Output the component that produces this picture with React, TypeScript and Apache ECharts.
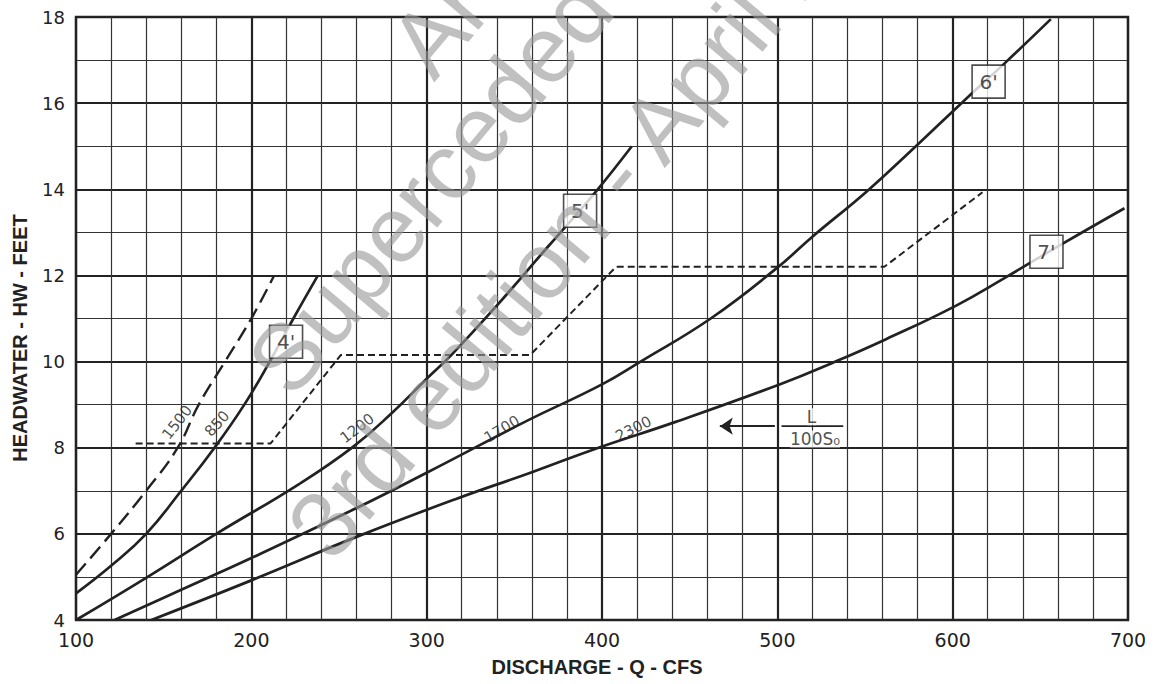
import { useEffect, useRef } from "react";
import * as echarts from "echarts";

// ---- axis ticks ----
const xTicks = [100, 200, 300, 400, 500, 600, 700];
const yTicks = [4, 6, 8, 10, 12, 14, 16, 18];

// ---- performance curves (Q in cfs, HW in feet) ----
const q1500 = [100, 120, 140, 158, 170, 185, 200, 213];
const hw1500 = [5.05, 6.0, 7.0, 8.0, 9.0, 10.0, 11.0, 12.0];

const q850 = [100, 120, 140, 160, 179, 196, 210.5, 224, 238];
const hw850 = [4.62, 5.26, 6.0, 7.0, 8.0, 9.0, 10.0, 11.0, 12.0];

const q1200 = [100, 140, 180, 227, 258, 280, 300, 314, 340, 369, 379, 397, 417];
const hw1200 = [4.0, 4.98, 6.0, 7.15, 8.02, 8.8, 9.6, 10.15, 11.3, 12.66, 13.12, 13.97, 15.0];

const q1700 = [122, 160, 200, 260, 300, 356, 400, 422, 462, 500, 520, 551, 579, 605, 629, 656];
const hw1700 = [4.0, 4.7, 5.44, 6.6, 7.42, 8.6, 9.47, 10.0, 11.0, 12.18, 12.9, 13.95, 15.0, 16.0, 16.9, 17.95];

const q2300 = [143, 200, 260, 316, 360, 398, 442, 502, 532, 562, 602, 630, 662, 698];
const hw2300 = [4.0, 4.92, 5.93, 6.8, 7.43, 8.0, 8.6, 9.48, 9.98, 10.52, 11.3, 11.95, 12.72, 13.56];

// ---- L/100So limit (short dashes) ----
const limitQ = [134, 211, 251, 359, 408, 561, 617];
const limitHW = [8.1, 8.1, 10.15, 10.15, 12.2, 12.2, 13.93];

// ---- curve labels ----
const curveLabelText = ["1500", "850", "1200", "1700", "2300"];
const curveLabelQ = [157.7, 180.5, 260.4, 342.9, 418];
const curveLabelHW = [8.59, 8.56, 8.45, 8.43, 8.44];
const curveLabelAngle = [52, 48, 37, 31, 27];

// ---- culvert size boxes ----
const sizeText = ["4'", "5'", "6'", "7'"];
const sizeQ = [219.8, 387.5, 620.5, 653.5];
const sizeHW = [10.46, 13.5, 16.5, 12.55];

// ---- L/100So note ----
const arrowQ = [498.6, 467.2];
const barQ = [502.4, 537.6];
const noteHW = 8.5;
const noteText = ["L", "100S₀"];
const noteQ = [519.5, 521.5];
const noteHWs = [8.72, 8.2];

// ---- titles / watermark ----
const xTitle = "DISCHARGE - Q - CFS";
const yTitle = "HEADWATER - HW - FEET";
const watermarkText = ["Archived -", "Superceded -", "3rd edition - April 2012"];

const INK = "#222";
const FONT = "DejaVu Sans";

const pairs = (xs: number[], ys: number[]) => xs.map((x, i) => [x, ys[i]]);

export default function App() {
  const ref = useRef<HTMLDivElement>(null);

  useEffect(() => {
    if (!ref.current) return;
    const chart = echarts.init(ref.current, null, { renderer: "svg" });

    const curve = (xs: number[], ys: number[], extra: any = {}) => ({
      type: "line",
      data: pairs(xs, ys),
      smooth: 0.45,
      symbol: "none",
      lineStyle: { color: INK, width: 2.7, ...(extra.lineStyle || {}) },
      z: 3,
      silent: true,
    });

    const wmStyle = {
      fill: "#999",
      opacity: 0.62,
      font: "94px 'Liberation Sans', Arial, sans-serif",
      textAlign: "left",
      textVerticalAlign: "bottom",
    };
    const rot = (50 * Math.PI) / 180;

    chart.setOption({
      animation: false,
      backgroundColor: "#fff",
      grid: {
        left: 76,
        top: 17,
        right: 28,
        bottom: 64,
        show: true,
        borderColor: INK,
        borderWidth: 2.4,
        backgroundColor: "#fff",
      },
      xAxis: {
        type: "value",
        min: 100,
        max: 700,
        interval: 100,
        axisLine: { show: false },
        axisTick: { show: false },
        axisLabel: { customValues: xTicks, fontSize: 19, color: INK, margin: 10, fontFamily: FONT },
        splitLine: { show: true, lineStyle: { color: INK, width: 2.2 } },
        minorTick: { show: false, splitNumber: 5 },
        minorSplitLine: { show: true, lineStyle: { color: "#333", width: 1.2 } },
        name: xTitle,
        nameLocation: "middle",
        nameGap: 37,
        nameTextStyle: { fontSize: 20, fontWeight: "bold", color: INK, fontFamily: "Liberation Sans", padding: [0, 10, 0, 0] },
      },
      yAxis: {
        type: "value",
        min: 4,
        max: 18,
        interval: 2,
        axisLine: { show: false },
        axisTick: { show: false },
        axisLabel: { customValues: yTicks, fontSize: 18, color: INK, margin: 11, fontFamily: FONT },
        splitLine: { show: true, lineStyle: { color: INK, width: 2.2 } },
        minorTick: { show: false, splitNumber: 2 },
        minorSplitLine: { show: true, lineStyle: { color: "#333", width: 1.2 } },
      },
      series: [
        curve(q1500, hw1500, { lineStyle: { type: [15, 7], width: 2.4 } }),
        curve(q850, hw850),
        curve(q1200, hw1200),
        curve(q1700, hw1700),
        curve(q2300, hw2300),
        {
          type: "line",
          data: pairs(limitQ, limitHW),
          symbol: "none",
          lineStyle: { color: INK, width: 2, type: [7, 4] },
          z: 3,
          silent: true,
        },
        {
          type: "scatter",
          symbolSize: 1,
          itemStyle: { color: "rgba(0,0,0,0)" },
          z: 5,
          silent: true,
          label: { show: true, position: "inside", fontSize: 15, color: INK, fontFamily: FONT },
          data: curveLabelQ.map((q, i) => ({
            value: [q, curveLabelHW[i]],
            label: { rotate: curveLabelAngle[i], formatter: curveLabelText[i] },
          })),
        },
        {
          type: "scatter",
          symbol: "rect",
          symbolSize: [33, 33],
          itemStyle: { color: "#fff", borderColor: INK, borderWidth: 1.6 },
          z: 6,
          silent: true,
          label: { show: true, position: "inside", fontSize: 20, color: INK, fontFamily: FONT },
          data: sizeQ.map((q, i) => ({
            value: [q, sizeHW[i]],
            label: { formatter: sizeText[i] },
          })),
        },
        {
          type: "scatter",
          symbolSize: 1,
          itemStyle: { color: "rgba(0,0,0,0)" },
          z: 6,
          silent: true,
          label: { show: true, position: "inside", fontSize: 17, color: INK, fontFamily: FONT, backgroundColor: "#fff" },
          data: noteQ.map((q, i) => ({
            value: [q, noteHWs[i]],
            label: { formatter: noteText[i] },
          })),
          markLine: {
            silent: true,
            symbol: ["none", "arrow"],
            symbolSize: 13,
            lineStyle: { color: INK, width: 1.8, type: "solid" },
            label: { show: false },
            data: [[{ coord: [arrowQ[0], noteHW] }, { coord: [arrowQ[1], noteHW] }]],
          },
        },
        {
          type: "line",
          data: pairs(barQ, [noteHW, noteHW]),
          symbol: "none",
          lineStyle: { color: INK, width: 1.8 },
          z: 6,
          silent: true,
        },
      ],
      graphic: [
        {
          type: "text",
          x: 20,
          y: 338,
          rotation: Math.PI / 2,
          silent: true,
          style: {
            text: yTitle,
            fill: INK,
            font: "bold 20px 'Liberation Sans', Arial, sans-serif",
            textAlign: "center",
            textVerticalAlign: "middle",
          },
        },
        { type: "text", x: 445, y: 92, rotation: rot, z: 100, silent: true, style: { ...wmStyle, text: watermarkText[0] } },
        { type: "text", x: 303, y: 410, rotation: rot, z: 100, silent: true, style: { ...wmStyle, text: watermarkText[1] } },
        { type: "text", x: 343, y: 574, rotation: rot, z: 100, silent: true, style: { ...wmStyle, text: watermarkText[2] } },
      ],
    });

    return () => chart.dispose();
  }, []);

  return (
    <div
      ref={ref}
      style={{ position: "absolute", left: 0, top: 0, width: 1156, height: 684, background: "#fff" }}
    />
  );
}
